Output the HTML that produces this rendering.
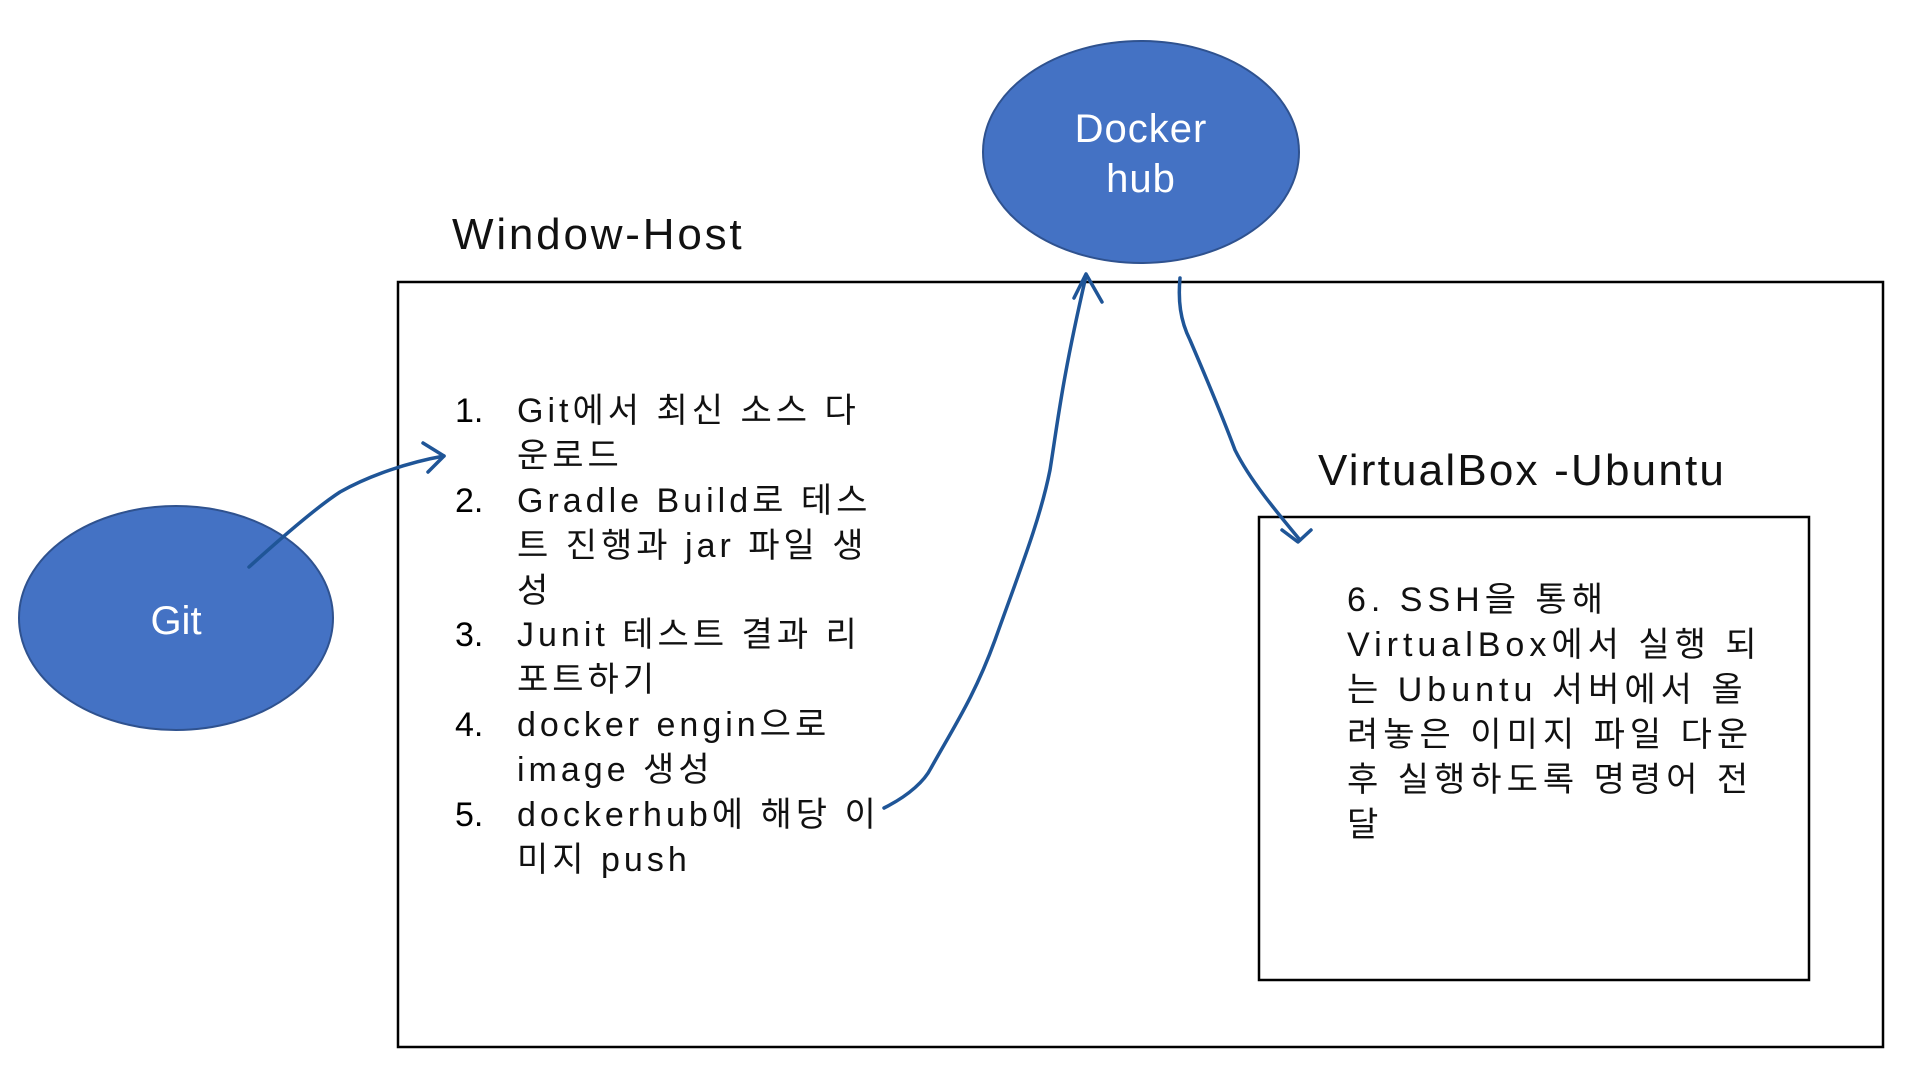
<!DOCTYPE html>
<html><head><meta charset="utf-8"><style>
body{margin:0;width:1920px;height:1073px;background:#fff;overflow:hidden;position:relative;font-family:"Liberation Sans","Noto Sans CJK KR",sans-serif;}
.t{position:absolute;font-size:34px;line-height:45px;color:#111;white-space:nowrap;letter-spacing:4px;}
.n{position:absolute;left:455px;font-size:34px;line-height:45px;}
</style></head><body>
<svg width="1920" height="1073" style="position:absolute;left:0;top:0">
<rect x="398" y="282" width="1485" height="765" fill="none" stroke="#000" stroke-width="2.5"/>
<rect x="1259" y="517" width="550" height="463" fill="none" stroke="#000" stroke-width="2.5"/>
<ellipse cx="1141" cy="152" rx="158" ry="111" fill="#4472c4" stroke="#2f528f" stroke-width="2"/>
<ellipse cx="176" cy="618" rx="157" ry="112" fill="#4472c4" stroke="#2f528f" stroke-width="2"/>
<text x="1141" y="142" font-size="40" fill="#fff" text-anchor="middle" font-family="Liberation Sans, sans-serif" letter-spacing="1">Docker</text>
<text x="1141" y="192" font-size="40" fill="#fff" text-anchor="middle" font-family="Liberation Sans, sans-serif" letter-spacing="1">hub</text>
<text x="176" y="634" font-size="40" fill="#fff" text-anchor="middle" font-family="Liberation Sans, sans-serif">Git</text>
<g fill="none" stroke="#1f5597" stroke-width="3.5" stroke-linecap="round" stroke-linejoin="round">
<path d="M249 567 C290 530 320 505 340 492 C370 475 410 462 444 456"/>
<path d="M423 443 L444 456 L428 472"/>
<path d="M884 808 C910 795 925 780 931 768 C955 725 975 695 995 640 C1020 570 1040 520 1050 470 C1058 420 1062 380 1086 276"/>
<path d="M1074 298 L1086 274 L1102 302"/>
<path d="M1180 278 C1178 300 1180 320 1190 340 C1205 375 1220 410 1235 450 C1250 480 1275 510 1300 540"/>
<path d="M1282 530 L1298 542 L1311 530"/>
</g>
</svg>
<div class="t" style="left:452px;top:208px;font-size:44px;line-height:54px;letter-spacing:2.8px">Window-Host</div>
<div class="t" style="left:1318px;top:444px;font-size:44px;line-height:54px;letter-spacing:2.2px">VirtualBox -Ubuntu</div>
<div class="n" style="top:389px">1.</div><div class="t" style="left:517px;top:389px">Git에서 최신 소스 다<br>운로드</div>
<div class="n" style="top:479px">2.</div><div class="t" style="left:517px;top:479px">Gradle Build로 테스<br>트 진행과 jar 파일 생<br>성</div>
<div class="n" style="top:613px">3.</div><div class="t" style="left:517px;top:613px">Junit 테스트 결과 리<br>포트하기</div>
<div class="n" style="top:703px">4.</div><div class="t" style="left:517px;top:703px">docker engin으로<br>image 생성</div>
<div class="n" style="top:793px">5.</div><div class="t" style="left:517px;top:793px">dockerhub에 해당 이<br>미지 push</div>
<div class="t" style="left:1347px;top:578px;letter-spacing:5px">6. SSH을 통해<br>VirtualBox에서 실행 되<br>는 Ubuntu 서버에서 올<br>려놓은 이미지 파일 다운<br>후 실행하도록 명령어 전<br>달</div>
</body></html>
